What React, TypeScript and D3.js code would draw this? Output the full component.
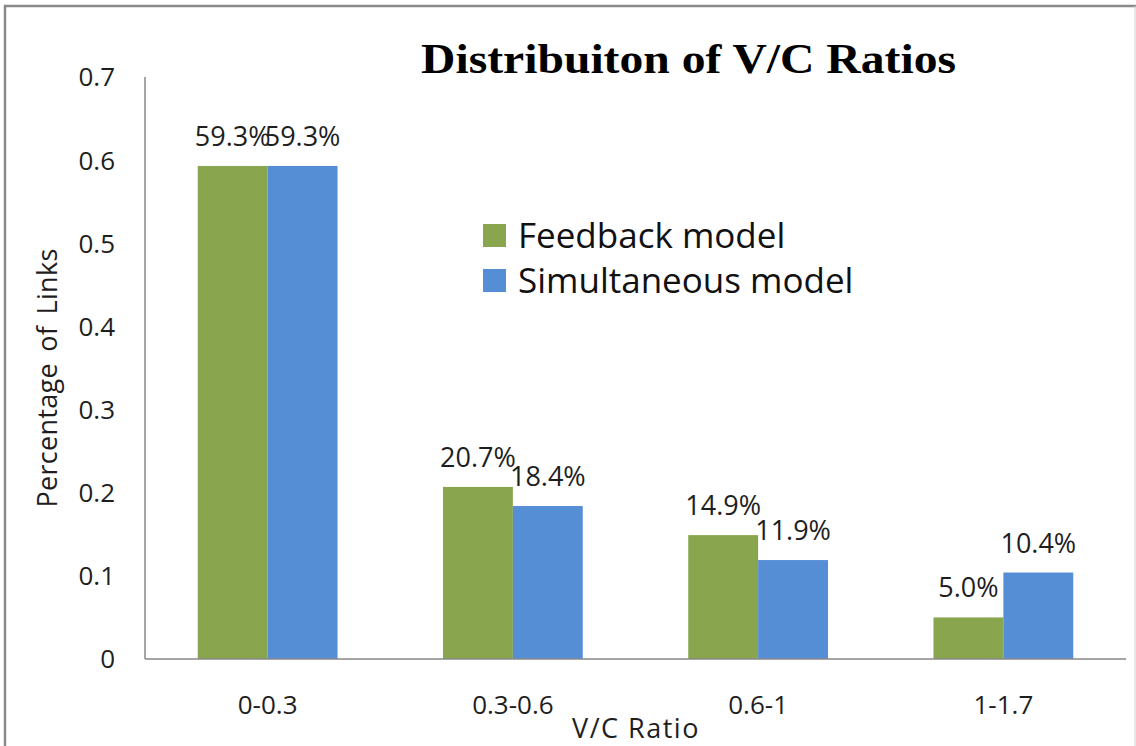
import * as d3 from "d3";

const categories = ["0-0.3", "0.3-0.6", "0.6-1", "1-1.7"];
const seriesNames = ["Feedback model", "Simultaneous model"];
const feedbackValues = [0.593, 0.207, 0.149, 0.05];
const simultaneousValues = [0.593, 0.184, 0.119, 0.104];
const yTicks = [0, 0.1, 0.2, 0.3, 0.4, 0.5, 0.6, 0.7];
const colors = ["#89a54e", "#558ed5"];

const width = 1136;
const height = 746;
const margin = {top: 77, right: 10, bottom: 87, left: 145};
const font = "'Open Sans', 'DejaVu Sans', sans-serif";

export default function App() {
  let x0 = d3.scaleBand()
    .domain(categories)
    .range([margin.left, width - margin.right])
    .paddingInner(0.43)
    .paddingOuter(0.215);
  let x1 = d3.scaleBand()
    .domain(seriesNames)
    .range([0, x0.bandwidth()]);
  let y = d3.scaleLinear()
    .domain([0, 0.7])
    .range([height - margin.bottom, margin.top]);

  let series = [feedbackValues, simultaneousValues];
  let pct = d3.format(".1%");
  let tickFmt = (d: number) => (d === 0 ? "0" : d.toFixed(1));

  return (
    <svg width={width} height={height} style={{position: "absolute", left: 0, top: 0, background: "#fff"}}>
      <rect x={0} y={0} width={width} height={height} fill="#fff" />
      {/* outer frame */}
      <path d={`M5,${height} V6 H${width}`} fill="none" stroke="#8a8a8a" strokeWidth={2.5} />
      <line x1={width - 1} x2={width - 1} y1={6} y2={height} stroke="#d0d0d0" strokeWidth={1} />

      <text x={421} y={73} textLength={535} lengthAdjust="spacingAndGlyphs"
        fontFamily="'Liberation Serif', 'Times New Roman', serif"
        fontWeight="bold" fontSize={43} fill="#000">Distribuiton of V/C Ratios</text>

      {/* bars */}
      {series.map((vals, si) => (
        <g key={seriesNames[si]}>
          {categories.map((c, i) => (
            <rect key={c}
              x={x0(c)! + x1(seriesNames[si])!}
              y={y(vals[i])}
              width={x1.bandwidth()}
              height={y(0) - y(vals[i])}
              fill={colors[si]} />
          ))}
          {categories.map((c, i) => (
            <text key={c + "l"}
              x={x0(c)! + x1(seriesNames[si])! + x1.bandwidth() / 2}
              y={y(vals[i]) - 20}
              textAnchor="middle" fontFamily={font} fontSize={27} fill="#1e1e1e">{pct(vals[i])}</text>
          ))}
        </g>
      ))}

      {/* axes */}
      <line x1={margin.left} x2={margin.left} y1={y(0.7)} y2={y(0)} stroke="#888" strokeWidth={1.5} />
      <line x1={margin.left} x2={width - margin.right} y1={y(0)} y2={y(0)} stroke="#888" strokeWidth={1.5} />

      {yTicks.map((t) => (
        <text key={t} x={115} y={y(t)} dy="0.36em" textAnchor="end" fontFamily={font} fontSize={26} fill="#1e1e1e">
          {tickFmt(t)}
        </text>
      ))}
      {categories.map((c) => (
        <text key={c} x={x0(c)! + x0.bandwidth() / 2} y={714} textAnchor="middle" fontFamily={font} fontSize={26} fill="#1e1e1e">
          {c}
        </text>
      ))}

      <text x={636} y={738} textAnchor="middle" fontFamily={font} fontSize={27} letterSpacing={1.5} fill="#1e1e1e">V/C Ratio</text>
      <text transform="translate(57,378) rotate(-90)" textAnchor="middle" fontFamily={font} fontSize={27}
        wordSpacing={4} letterSpacing={0.3} fill="#1e1e1e">Percentage of Links</text>

      {/* legend */}
      {seriesNames.map((s, i) => (
        <g key={s} transform={`translate(483,${224 + i * 45})`}>
          <rect x={0} y={0} width={23} height={23} fill={colors[i]} />
          <text x={35} y={24} fontFamily={font} fontSize={35} fill="#111">{s}</text>
        </g>
      ))}
    </svg>
  );
}
